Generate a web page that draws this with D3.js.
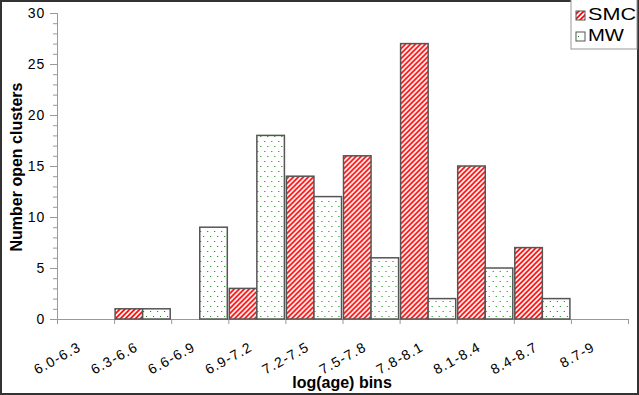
<!DOCTYPE html>
<html>
<head>
<meta charset="utf-8">
<script src="https://cdn.jsdelivr.net/npm/d3@7"></script>
<style>
  body { margin: 0; background: #fff; }
  svg { display: block; font-family: Arial, "Liberation Sans", sans-serif; }
</style>
</head>
<body>
<svg id="chart" width="639" height="395"></svg>
<script>
// log(age) bins
var bins = ["6.0-6.3", "6.3-6.6", "6.6-6.9", "6.9-7.2", "7.2-7.5", "7.5-7.8", "7.8-8.1", "8.1-8.4", "8.4-8.7", "8.7-9"];
var smc = [0, 1, 0, 3, 14, 16, 27, 15, 7, 0];
var mw = [0, 1, 9, 18, 12, 6, 2, 5, 2, 0];
var seriesNames = ["SMC", "MW"];
var yTicks = [0, 5, 10, 15, 20, 25, 30];

var svg = d3.select("#chart");
var W = 639, H = 395;

var defs = svg.append("defs");
// red diagonal hatch for SMC
var hatch = defs.append("pattern").attr("id", "hatch")
    .attr("patternUnits", "userSpaceOnUse").attr("width", 5).attr("height", 5);
hatch.append("rect").attr("width", 5).attr("height", 5).attr("fill", "#fff");
hatch.append("path").attr("d", "M-1,6 L6,-1 M-2,2 L2,-2 M3,7 L7,3")
    .attr("stroke", "#ff0000").attr("stroke-width", 1.65);
// sparse green dots for MW
var dots = defs.append("pattern").attr("id", "dots")
    .attr("patternUnits", "userSpaceOnUse").attr("width", 7).attr("height", 10);
dots.append("rect").attr("width", 7).attr("height", 10).attr("fill", "#fff");
dots.append("rect").attr("x", 1).attr("y", 1).attr("width", 1).attr("height", 1).attr("fill", "#008000");
dots.append("rect").attr("x", 4).attr("y", 6).attr("width", 1).attr("height", 1).attr("fill", "#008000");

var fills = {SMC: "url(#hatch)", MW: "url(#dots)"};

// outer frame
svg.append("rect").attr("x", 1).attr("y", 1).attr("width", W - 2).attr("height", H - 2)
    .attr("fill", "#fff").attr("stroke", "#333").attr("stroke-width", 2);

var x = d3.scaleBand().domain(bins).range([57, 628]);
var bw = x.bandwidth();
var xs = d3.scaleBand().domain(seriesNames).range([1, bw - 1]);
var y = d3.scaleLinear().domain([0, 30]).range([319, 13]);

var rows = bins.map(function(b, i) {
    return {bin: b, SMC: smc[i], MW: mw[i]};
});

// y axis: minor then major ticks
var axisColor = "#999";
var yMinor = svg.append("g").attr("transform", "translate(57,0)")
    .call(d3.axisLeft(y).tickValues(d3.range(0, 31)).tickSize(4).tickFormat(""));
var yAxis = svg.append("g").attr("transform", "translate(57,0)")
    .call(d3.axisLeft(y).tickValues(yTicks).tickSize(7).tickPadding(5));
[yMinor, yAxis].forEach(function(g) {
    g.selectAll("path, line").attr("stroke", axisColor);
});
yAxis.selectAll("text").attr("font-size", 14).attr("fill", "#000")
    .attr("letter-spacing", 0.8);

// x axis: ticks at band edges
var xEdge = d3.scaleLinear().domain([0, bins.length]).range(x.range());
var xAxis = svg.append("g").attr("transform", "translate(0,319)")
    .call(d3.axisBottom(xEdge).ticks(bins.length).tickSize(5).tickSizeOuter(0).tickFormat(""));
xAxis.selectAll("path, line").attr("stroke", axisColor);

svg.append("g").selectAll("text").data(bins).enter().append("text")
    .attr("transform", function(d) { return "translate(" + (x(d) + 25) + ",350) rotate(-29)"; })
    .attr("text-anchor", "end")
    .attr("font-size", 14)
    .attr("letter-spacing", 1.1)
    .text(function(d) { return d; });

// bars
var groups = svg.append("g").selectAll("g").data(rows).enter().append("g")
    .attr("transform", function(d) { return "translate(" + x(d.bin) + ",0)"; });
groups.selectAll("rect")
    .data(function(d) {
        return seriesNames.map(function(k) { return {key: k, value: d[k]}; })
            .filter(function(e) { return e.value > 0; });
    })
    .enter().append("rect")
    .attr("x", function(d) { return xs(d.key); })
    .attr("width", xs.bandwidth())
    .attr("y", function(d) { return y(d.value); })
    .attr("height", function(d) { return y(0) - y(d.value); })
    .attr("fill", function(d) { return fills[d.key]; })
    .attr("stroke", "#555")
    .attr("stroke-width", 1.5);

// axis titles
svg.append("text").attr("x", 342).attr("y", 388)
    .attr("text-anchor", "middle").attr("font-size", 16).attr("font-weight", "bold")
    .text("log(age) bins");
svg.append("text").attr("transform", "translate(22,167) rotate(-90)")
    .attr("text-anchor", "middle").attr("font-size", 16).attr("font-weight", "bold")
    .text("Number open clusters");

// legend
var legend = svg.append("g");
legend.append("rect").attr("x", 571).attr("y", -1).attr("width", 66).attr("height", 50)
    .attr("fill", "#fff").attr("stroke", "#999");
var legRows = [{key: "SMC", y: 11, len: 48}, {key: "MW", y: 32, len: 36}];
legRows.forEach(function(r) {
    legend.append("rect").attr("x", 576).attr("y", r.y).attr("width", 9).attr("height", 9)
        .attr("fill", fills[r.key]).attr("stroke", "#555").attr("stroke-width", 1);
    legend.append("text").attr("x", 588).attr("y", r.y + 9)
        .attr("font-size", 17).attr("textLength", r.len).attr("lengthAdjust", "spacingAndGlyphs")
        .text(r.key);
});
</script>
</body>
</html>
